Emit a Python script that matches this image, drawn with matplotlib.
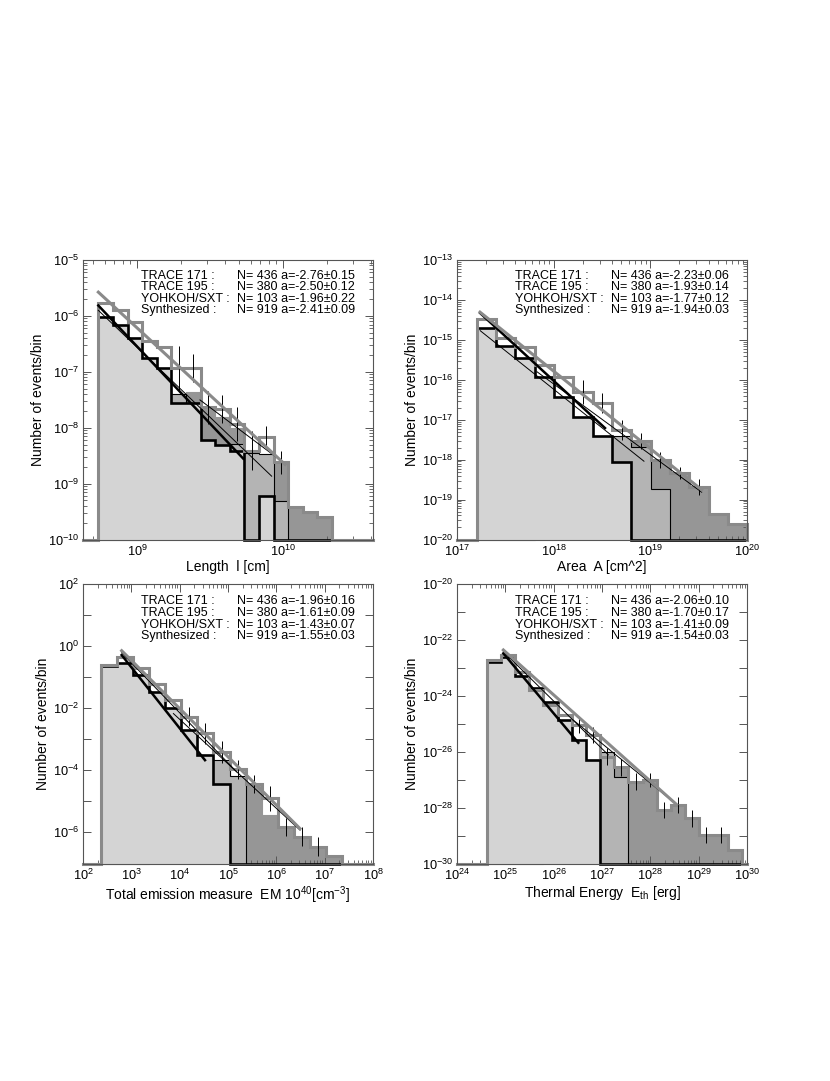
import matplotlib
matplotlib.use("Agg")
import matplotlib.pyplot as plt
import numpy as np

plt.rcParams['font.family'] = ['Liberation Sans', 'DejaVu Sans']
plt.rcParams['mathtext.fontset'] = 'custom'
plt.rcParams['mathtext.rm'] = 'Liberation Sans'
plt.rcParams['mathtext.it'] = 'Liberation Sans:italic'
plt.rcParams['mathtext.default'] = 'regular'

# legend entries (same instruments in every panel)
NAMES = ["TRACE 171 :", "TRACE 195 :", "YOHKOH/SXT :", "Synthesized :"]
N_EVENTS = [436, 380, 103, 919]

# ---- panel 1 : loop length ----
LEN_EDGE0, LEN_WIDTH = 8.735, 0.1           # log10 of first bin edge, bin width (dex)
LEN_T171 = [9.5e-7, 7.0e-7, 4.05e-7, 1.78e-7, 1.18e-7, 2.75e-8, 2.75e-8, 6.1e-9,
            5.0e-9, 3.9e-9, 0, 5.9e-10, 0, 0, 0, 0]
LEN_T195 = [8e-7, 6e-7, 3.5e-7, 1.5e-7, 1.0e-7, 4.0e-8, 2.5e-8, 5.5e-9,
            4.5e-9, 5.2e-9, 3.6e-9, 3.4e-9, 4.8e-10, 0, 0, 0]
LEN_SXT = [0, 0, 0, 5e-8, 5e-8, 2.5e-8, 4.3e-8, 2.3e-8,
           1.55e-8, 1.0e-8, 3.0e-9, 3.0e-9, 2.26e-9, 3.8e-10, 3.1e-10, 2.5e-10]
LEN_SYN = [1.70e-6, 1.26e-6, 7.8e-7, 3.6e-7, 2.75e-7, 1.17e-7, 1.17e-7, 2.3e-8,
           2.2e-8, 1.17e-8, 3.9e-9, 6.8e-9, 2.4e-9, 3.8e-10, 3.1e-10, 2.5e-10]
LEN_ERR = [0, 0, 0, 0, 0, 0.4, 0.25, 0.3, 0.25, 0.3, 0.35, 0.2, 0.2, 0, 0, 0]
LEN_SLOPE = [-2.76, -2.50, -1.96, -2.41]
LEN_SIGMA = [0.15, 0.12, 0.22, 0.09]
LEN_FIT_X0 = [8.735, 8.735, 9.431, 8.735]
LEN_FIT_X1 = [9.728, 9.922, 10.014, 10.014]
LEN_FIT_Y0 = [-5.814, -5.90, -7.503, -5.575]

# ---- panel 2 : area ----
AREA_EDGE0, AREA_WIDTH = 17.203, 0.2
AREA_T171 = [2.0e-15, 7.2e-16, 3.55e-16, 1.16e-16, 3.67e-17, 1.16e-17, 4.0e-18,
             8.6e-19, 0, 0, 0, 0, 0, 0]
AREA_T195 = [1.6e-15, 6e-16, 3e-16, 1e-16, 3e-17, 1e-17, 3.5e-18,
             4.0e-18, 2.05e-18, 1.86e-19, 0, 0, 0, 0]
AREA_SXT = [0, 0, 0, 5e-17, 2e-17, 1e-17, 3.5e-18,
            3e-18, 2.9e-18, 9.6e-19, 4.6e-19, 2.05e-19, 4.4e-20, 2.5e-20]
AREA_SYN = [3.4e-15, 1.12e-15, 6.6e-16, 2.28e-16, 1.16e-16, 4.9e-17, 2.6e-17,
            5.4e-18, 2.9e-18, 9.9e-19, 4.6e-19, 2.05e-19, 4.4e-20, 2.5e-20]
AREA_ERR = [0, 0, 0, 0, 0, 0.3, 0.25, 0.25, 0.2, 0.2, 0.15, 0.2, 0, 0]
AREA_SLOPE = [-2.23, -1.93, -1.77, -1.94]
AREA_SIGMA = [0.06, 0.14, 0.12, 0.03]
AREA_FIT_X0 = [17.24, 17.24, 17.828, 17.238]
AREA_FIT_X1 = [18.531, 18.934, 19.531, 19.531]
AREA_FIT_Y0 = [-14.33, -14.77, -15.80, -14.306]

# ---- panel 3 : emission measure ----
EM_EDGE0, EM_WIDTH = 2.366, 1.0 / 3.0
EM_T171 = [0.22, 0.27, 0.114, 0.033, 9.8e-3, 1.95e-3, 3.1e-4, 3.7e-5,
           0, 0, 0, 0, 0, 0, 0]
EM_T195 = [0.2, 0.25, 0.1, 0.03, 9e-3, 1.8e-3, 2.8e-4, 2.1e-4,
           6.5e-5, 0, 0, 0, 0, 0, 0]
EM_SXT = [0, 0, 0, 0.01, 3e-3, 1e-3, 2e-4, 1.5e-4,
          5e-5, 3.6e-5, 3.6e-6, 1.5e-6, 7.2e-7, 3.5e-7, 1.7e-7]
EM_SYN = [0.24, 0.42, 0.187, 0.0586, 0.018, 5.2e-3, 1.52e-3, 3.9e-4,
          1.06e-4, 3.6e-5, 1.26e-5, 1.5e-6, 7.2e-7, 3.5e-7, 1.7e-7]
EM_ERR = [0, 0, 0, 0, 0, 0.3, 0.35, 0.35, 0.3, 0.3, 0.4, 0.3, 0.3, 0.3, 0]
EM_SLOPE = [-1.96, -1.61, -1.43, -1.55]
EM_SIGMA = [0.16, 0.09, 0.07, 0.03]
EM_FIT_X0 = [2.8, 2.8, 3.87, 2.8]
EM_FIT_X1 = [4.524, 5.18, 6.49, 6.49]
EM_FIT_Y0 = [-0.30, -0.224, -2.18, -0.16]

# ---- panel 4 : thermal energy ----
EN_EDGE0, EN_WIDTH = 24.614, 0.2933
EN_T171 = [1.6e-23, 2.3e-23, 5.0e-24, 1.82e-24, 6.0e-25, 1.35e-25, 2.6e-26, 5.0e-27,
           0, 0, 0, 0, 0, 0, 0, 0, 0, 0]
EN_T195 = [1.5e-23, 2.0e-23, 4.5e-24, 1.6e-24, 5e-25, 1.2e-25, 2.4e-26, 4.5e-27,
           1.0e-26, 1.26e-27, 0, 0, 0, 0, 0, 0, 0, 0]
EN_SXT = [0, 0, 0, 0, 1e-25, 8e-26, 2e-26, 4e-27,
          6e-27, 2.5e-27, 8.3e-28, 9.5e-28, 8.1e-29, 1.23e-28, 4.1e-29, 1.05e-29, 1.05e-29, 3.0e-30]
EN_SYN = [1.86e-23, 2.8e-23, 7.0e-24, 1.58e-24, 4.6e-25, 2.0e-25, 8.9e-26, 3.9e-26,
          6.5e-27, 2.7e-27, 8.3e-28, 9.5e-28, 8.1e-29, 1.23e-28, 4.1e-29, 1.05e-29, 1.05e-29, 3.0e-30]
EN_ERR = [0, 0, 0, 0, 0, 0, 0.3, 0.3, 0.3, 0.3, 0.3, 0.25, 0.3, 0.3, 0.3, 0.3, 0.3, 0]
EN_SLOPE = [-2.06, -1.70, -1.41, -1.54]
EN_SIGMA = [0.10, 0.17, 0.09, 0.03]
EN_FIT_X0 = [24.959, 24.959, 26.407, 24.959]
EN_FIT_X1 = [26.51, 27.131, 28.545, 28.545]
EN_FIT_Y0 = [-22.494, -22.43, -24.88, -22.375]

LIGHT, MEDIUM, DARK, SYNGRAY = '#d4d4d4', '#b4b4b4', '#969696', '#8a8a8a'


def step_outline(edges, vals, floor):
    # closed staircase path that drops to the floor at both ends
    v = np.where(np.asarray(vals) > 0, vals, floor)
    x = np.concatenate([[edges[0]], np.repeat(edges, 2)[1:-1], [edges[-1]]])
    y = np.concatenate([[floor], np.repeat(v, 2), [floor]])
    return x, y


def draw_panel(ax, edge0, width, t171, t195, sxt, syn, err, slope, sigma,
               fx0, fx1, fy0, xlim, ylim, xlabel, text_y, ylab_every):
    nb = len(syn)
    edges = 10 ** (edge0 + width * np.arange(nb + 1))
    floor = ylim[0]

    # filled histograms, darkest first, each outline drawn with its own fill
    hists = [(sxt, DARK, DARK, 0.8), (t195, MEDIUM, 'black', 0.8),
             (t171, LIGHT, 'black', 1.9)]
    for j, (vals, fc, ec, lw) in enumerate(hists):
        x, y = step_outline(edges, vals, floor)
        ax.fill_between(x, y, floor, color=fc, lw=0, zorder=1 + 2 * j)
        ax.plot(x, y, color=ec, lw=lw, clip_on=False, solid_joinstyle='miter',
                zorder=2 + 2 * j)

    # synthesized histogram: thick gray outline spanning the whole axis
    ext = np.concatenate([[xlim[0]], edges, [xlim[1]]])
    x, y = step_outline(ext, np.concatenate([[0], syn, [0]]), floor)
    ax.plot(x, y, color=SYNGRAY, lw=2.2, clip_on=False, solid_joinstyle='miter',
            zorder=8)

    # error bars
    centers = np.sqrt(edges[:-1] * edges[1:])
    syn = np.asarray(syn)
    err = np.asarray(err)
    m = err > 0
    lo = syn[m] * (1 - 10 ** (-err[m]))
    hi = syn[m] * (10 ** err[m] - 1)
    ax.errorbar(centers[m], syn[m], yerr=[lo, hi], fmt='none', ecolor='black',
                elinewidth=0.7, capsize=0, zorder=9)

    # power-law fits
    styles = [('black', 1.8), ('black', 0.7), ('black', 0.7), (SYNGRAY, 2.2)]
    for i in range(4):
        lx = np.array([fx0[i], fx1[i]])
        ly = fy0[i] + slope[i] * (lx - fx0[i])
        ax.plot(10 ** lx, 10 ** ly, color=styles[i][0], lw=styles[i][1], zorder=10)

    ax.set_xscale('log')
    ax.set_yscale('log')
    ax.set_xlim(*xlim)
    ax.set_ylim(*ylim)

    right_col = "\n".join(f"N= {N_EVENTS[i]} a={slope[i]:.2f}\u00b1{sigma[i]:.2f}"
                          for i in range(4))
    ax.text(0.2, text_y, "\n".join(NAMES), transform=ax.transAxes, fontsize=9,
            va='top', ha='left', linespacing=0.96, zorder=12)
    ax.text(0.53, text_y, right_col, transform=ax.transAxes, fontsize=9,
            va='top', ha='left', linespacing=0.96, zorder=12)

    ax.set_xlabel(xlabel, fontsize=10, labelpad=1)
    ax.set_ylabel('Number of events/bin', fontsize=10, labelpad=2)

    lo_dec, hi_dec = int(np.round(np.log10(ylim[0]))), int(np.round(np.log10(ylim[1])))
    decs = np.arange(lo_dec, hi_dec + 1)
    ax.set_yticks(10.0 ** decs)
    ax.set_yticklabels([f"$10^{{{d}}}$" if (d - hi_dec) % ylab_every == 0 else ''
                        for d in decs])
    if ylab_every == 1:
        ax.yaxis.set_minor_locator(matplotlib.ticker.LogLocator(base=10, subs=np.arange(2, 10)))
    else:
        ax.yaxis.set_minor_locator(matplotlib.ticker.NullLocator())
    ax.yaxis.set_minor_formatter(matplotlib.ticker.NullFormatter())

    for s in ax.spines.values():
        s.set_color('#555555')
        s.set_linewidth(0.8)
        s.set_zorder(11)
    ax.tick_params(which='both', direction='in', top=True, right=True,
                   color='#555555', labelsize=9.2, pad=3)
    ax.tick_params(which='major', length=6, width=0.7)
    ax.tick_params(which='minor', length=3, width=0.6)


fig = plt.figure(figsize=(8.3, 10.81), dpi=100)
W, H = 830.0, 1081.0

ax1 = fig.add_axes([83 / W, 1 - 539.5 / H, 290 / W, 279.5 / H])
draw_panel(ax1, LEN_EDGE0, LEN_WIDTH, LEN_T171, LEN_T195, LEN_SXT, LEN_SYN, LEN_ERR,
           LEN_SLOPE, LEN_SIGMA, LEN_FIT_X0, LEN_FIT_X1, LEN_FIT_Y0,
           (10 ** 8.63, 10 ** 10.616), (1e-10, 1e-5), 'Length  l [cm]', 0.966, 1)

ax2 = fig.add_axes([457 / W, 1 - 539.5 / H, 290 / W, 279.5 / H])
draw_panel(ax2, AREA_EDGE0, AREA_WIDTH, AREA_T171, AREA_T195, AREA_SXT, AREA_SYN, AREA_ERR,
           AREA_SLOPE, AREA_SIGMA, AREA_FIT_X0, AREA_FIT_X1, AREA_FIT_Y0,
           (1e17, 1e20), (1e-20, 1e-13), 'Area  A [cm^2]', 0.966, 1)

ax3 = fig.add_axes([83 / W, 1 - 863.5 / H, 290 / W, 280 / H])
draw_panel(ax3, EM_EDGE0, EM_WIDTH, EM_T171, EM_T195, EM_SXT, EM_SYN, EM_ERR,
           EM_SLOPE, EM_SIGMA, EM_FIT_X0, EM_FIT_X1, EM_FIT_Y0,
           (1e2, 1e8), (1e-7, 1e2), 'Total emission measure  EM 10$^{40}$[cm$^{-3}$]', 0.958, 2)

ax4 = fig.add_axes([457 / W, 1 - 863.5 / H, 290 / W, 280 / H])
draw_panel(ax4, EN_EDGE0, EN_WIDTH, EN_T171, EN_T195, EN_SXT, EN_SYN, EN_ERR,
           EN_SLOPE, EN_SIGMA, EN_FIT_X0, EN_FIT_X1, EN_FIT_Y0,
           (1e24, 1e30), (1e-30, 1e-20), 'Thermal Energy  E$_{th}$ [erg]', 0.958, 2)

fig.savefig('out.png', dpi=100)
